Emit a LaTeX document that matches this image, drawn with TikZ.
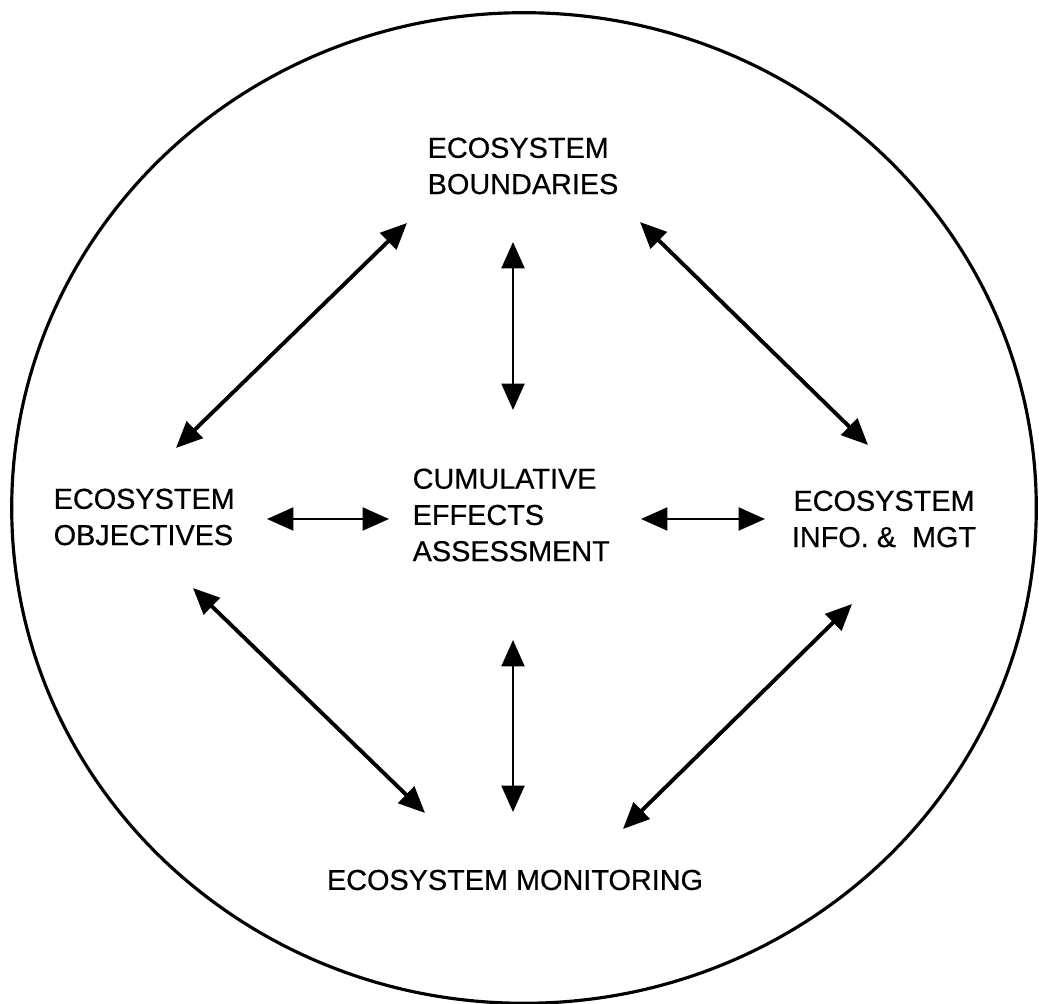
\documentclass[tikz,border=0pt]{standalone}
\usepackage{fontspec}
\setmainfont{Liberation Sans}
\newfontfamily\lblfont{Liberation Sans}[FakeBold=0.5]
\usetikzlibrary{arrows.meta}
\usetikzlibrary{positioning}

\begin{document}
\begin{tikzpicture}[x=0.01cm, y=-0.01cm,
    lbl/.style={font=\lblfont\fontsize{8.2}{10.3}\selectfont, inner sep=0pt},
    dbl/.style={{Triangle[length=7.5pt,width=6.5pt]}-{Triangle[length=7.5pt,width=6.5pt]}, line width=1.1pt},
    thindbl/.style={dbl, line width=0.75pt}]
  \useasboundingbox (0,0) rectangle (1039,1004);
  \draw[line width=0.9pt] (524,508) ellipse [x radius=5.12cm, y radius=4.95cm];

  % node[Optionen] (name) {};
  \node[lbl, anchor=west, align=left] (bound) at (427,166) {ECOSYSTEM\\BOUNDARIES};
  \node[lbl, anchor=west, align=left] (obj) at (53,517) {ECOSYSTEM\\OBJECTIVES};
  \node[lbl, anchor=west, align=left] (cea) at (412,515) {CUMULATIVE\\EFFECTS\\ASSESSMENT};
  \node[lbl, align=center] (info) at (884,519) {ECOSYSTEM\\INFO. \& \ MGT};
  \node[lbl] (mon) at (515,880) {ECOSYSTEM MONITORING};

  % Pfeilenden
  \coordinate (bo-w) at (407,223);
  \coordinate (bo-s) at (513,242);
  \coordinate (bo-e) at (640,222);
  \coordinate (ob-n) at (176,448);
  \coordinate (ob-e) at (267,519);
  \coordinate (ob-s) at (193,588);
  \coordinate (ce-n) at (513,410);
  \coordinate (ce-w) at (389,519);
  \coordinate (ce-e) at (641,519);
  \coordinate (ce-s) at (513,640);
  \coordinate (in-n) at (868,445);
  \coordinate (in-w) at (765,519);
  \coordinate (in-s) at (852,604);
  \coordinate (mo-w) at (425,813);
  \coordinate (mo-n) at (513,812);
  \coordinate (mo-e) at (623,829);

  \draw[dbl] (bo-w) -- (ob-n);
  \draw[dbl] (bo-e) -- (in-n);
  \draw[dbl] (ob-s) -- (mo-w);
  \draw[dbl] (in-s) -- (mo-e);
  \draw[thindbl] (bo-s) -- (ce-n);
  \draw[thindbl] (ce-s) -- (mo-n);
  \draw[thindbl] (ob-e) -- (ce-w);
  \draw[thindbl] (ce-e) -- (in-w);
\end{tikzpicture}
\end{document}
